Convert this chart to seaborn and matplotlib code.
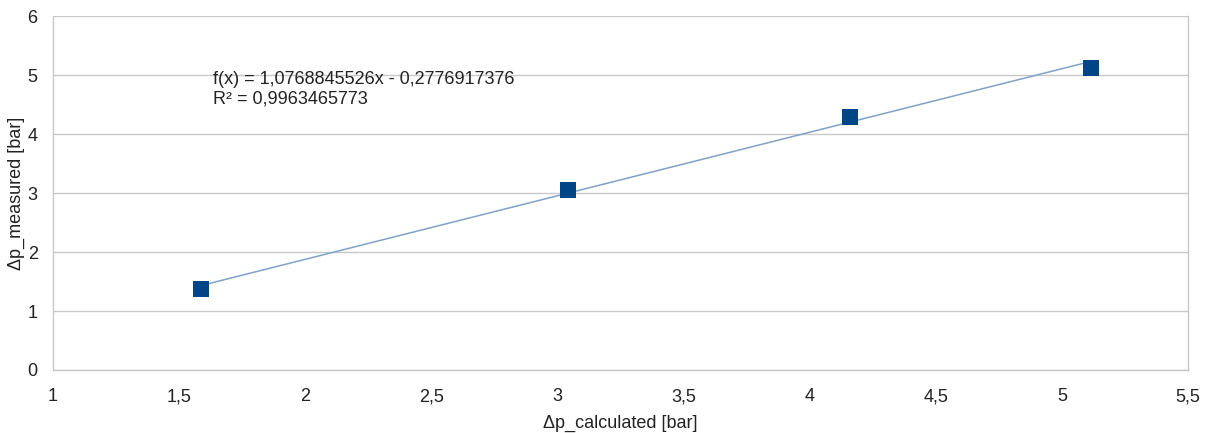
import numpy as np
import pandas as pd
import seaborn as sns
import matplotlib
matplotlib.use('Agg')
import matplotlib.pyplot as plt

# measured vs calculated pressure drop
dp_calculated = [1.585, 3.042, 4.160, 5.116]
dp_measured = [1.373, 3.050, 4.295, 5.125]

# trendline from the chart label
slope = 1.0768845526
intercept = -0.2776917376
fit_label = 'f(x) = 1,0768845526x - 0,2776917376\nR² = 0,9963465773'

x_ticks = [1, 1.5, 2, 2.5, 3, 3.5, 4, 4.5, 5, 5.5]
x_ticklabels = ['1', '1,5', '2', '2,5', '3', '3,5', '4', '4,5', '5', '5,5']
y_ticks = [0, 1, 2, 3, 4, 5, 6]

sns.set_theme(style='white')
plt.rcParams['font.family'] = ['Liberation Sans', 'DejaVu Sans']

data = pd.DataFrame({'calc': dp_calculated, 'meas': dp_measured})
xs = np.array([min(dp_calculated), max(dp_calculated)])
trend = pd.DataFrame({'calc': xs, 'meas': slope * xs + intercept})

fig, ax = plt.subplots(figsize=(12.1, 4.33), dpi=100)
fig.subplots_adjust(left=0.0438, right=0.9818, bottom=0.1455, top=0.963)

grey = '#c8c8c8'
txt = '#222222'
ax.set_axisbelow(True)
ax.yaxis.grid(True, color=grey, linewidth=1)

sns.lineplot(data=trend, x='calc', y='meas', ax=ax, color='#7fa2c6', linewidth=1.1)
sns.scatterplot(data=data, x='calc', y='meas', ax=ax, marker='s', s=125,
                color='#004586', edgecolor='#004586', linewidth=0, zorder=3)

ax.text(1.634, 4.76, fit_label, fontsize=13, color=txt, va='center',
        linespacing=1.15)

ax.set_xlim(1, 5.5)
ax.set_ylim(0, 6)
ax.set_xticks(x_ticks)
ax.set_xticklabels(x_ticklabels)
ax.set_yticks(y_ticks)
ax.tick_params(axis='y', labelsize=13, colors=txt, length=6,
               color=grey, width=1, direction='out', pad=5)
ax.tick_params(axis='x', labelsize=13, colors=txt, length=4,
               color=grey, width=1, direction='out', pad=9)

for side in ['left', 'right', 'bottom']:
  ax.spines[side].set_color(grey)
  ax.spines[side].set_linewidth(1)
ax.spines['top'].set_visible(False)

ax.set_xlabel('Δp_calculated [bar]', fontsize=13, color=txt, labelpad=7)
ax.set_ylabel('Δp_measured [bar]', fontsize=13, color=txt, labelpad=2)

fig.savefig('out.png', dpi=100)
